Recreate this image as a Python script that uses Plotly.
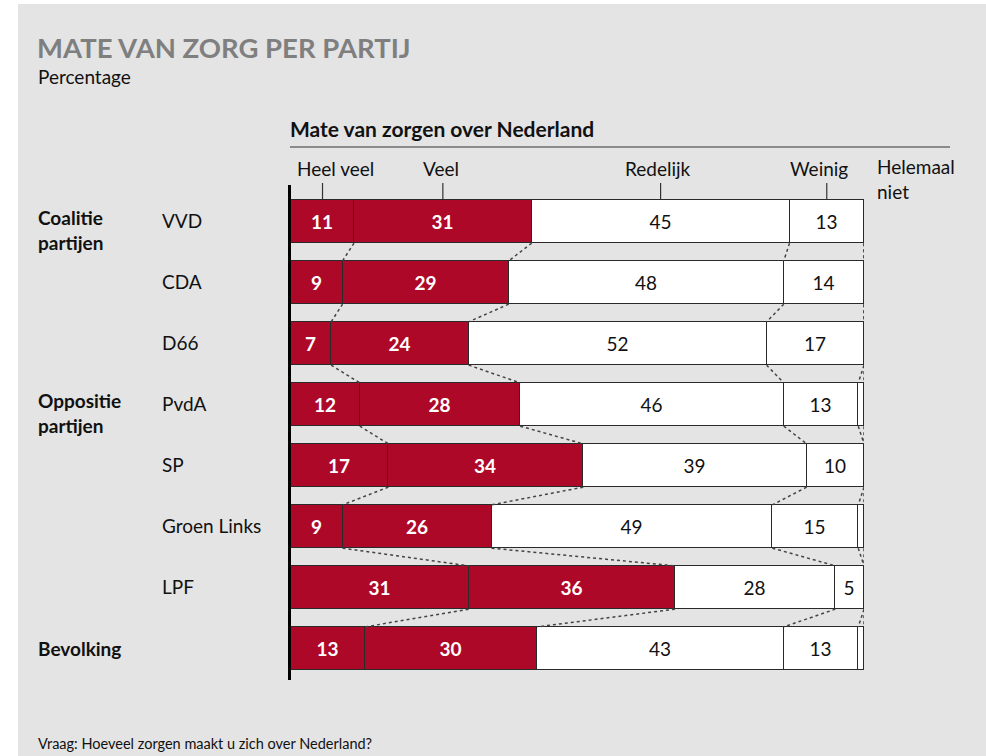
import plotly.graph_objects as go

# ---------------- data ----------------
groups = ["VVD", "CDA", "D66", "PvdA", "SP", "Groen Links", "LPF", "Bevolking"]
categories = ["Heel veel", "Veel", "Redelijk", "Weinig", "Helemaal niet"]
heel_veel = [11, 9, 7, 12, 17, 9, 31, 13]
veel = [31, 29, 24, 28, 34, 26, 36, 30]
redelijk = [45, 48, 52, 46, 39, 49, 28, 43]
weinig = [13, 14, 17, 13, 10, 15, 5, 13]
helemaal_niet = [0, 0, 0, 1, 0, 1, 0, 1]
series = [heel_veel, veel, redelijk, weinig, helemaal_niet]

title = "MATE VAN ZORG PER PARTIJ"
subtitle = "Percentage"
header = "Mate van zorgen over Nederland"
footer = "Vraag: Hoeveel zorgen maakt u zich over Nederland?"
group_labels = [("Coalitie<br>partijen", 0), ("Oppositie<br>partijen", 3), ("Bevolking", 7)]

# ---------------- style ----------------
W, H = 986, 756
PL, PR, PT, PB = 291, 864, 185, 680  # plot area in pixels
RED = "#ae0829"
BG = "#e4e4e4"
FONT = "Lato"
BW = 0.71

fills = [RED, RED, "white", "white", "white"]
txtcol = ["white", "white", "#111", "#111", "#111"]


def px(x):
    return (x - PL) / (PR - PL)


def py(y):
    return (PB - y) / (PB - PT)


ypos = list(range(len(groups)))
fig = go.Figure()
for k, (cat, vals) in enumerate(zip(categories, series)):
    if k < 2:
        txt = [f"<b>{v}</b>" for v in vals]
    elif k < 4:
        txt = [str(v) for v in vals]
    else:
        txt = ["" for v in vals]
    fig.add_trace(go.Bar(
        y=ypos, x=vals, orientation="h", name=cat, width=BW,
        marker=dict(color=fills[k], line=dict(color="#2a2a2a", width=1)),
        text=txt, textposition="inside", insidetextanchor="middle",
        textfont=dict(family=FONT, size=19, color=txtcol[k]),
        hoverinfo="skip", showlegend=False, constraintext="none",
    ))

# dotted connectors between consecutive bars
for i in range(len(groups) - 1):
    cum_a, cum_b = 0, 0
    for k in range(len(series)):
        cum_a += series[k][i]
        cum_b += series[k][i + 1]
        fig.add_trace(go.Scatter(
            x=[cum_a, cum_b], y=[i + BW / 2, i + 1 - BW / 2], mode="lines",
            line=dict(color="#444", width=1.5, dash="dot"),
            hoverinfo="skip", showlegend=False,
        ))

annotations = []
shapes = []
# grey panel
shapes.append(dict(type="rect", xref="paper", yref="paper", x0=px(18), x1=px(986),
                   y0=py(756), y1=py(4), fillcolor=BG, line=dict(width=0), layer="below"))
# header rule
shapes.append(dict(type="line", xref="paper", yref="paper", x0=px(290), x1=px(950),
                   y0=py(147), y1=py(147), line=dict(color="#333", width=1.2)))
# category ticks + labels at the centers of the first bar's segments
cum = 0
xshift = [13, -2, -3, -8]
for k in range(4):
    v = series[k][0]
    c = cum + v / 2
    cum += v
    shapes.append(dict(type="line", xref="x", yref="paper", x0=c, x1=c,
                       y0=py(199), y1=py(183), line=dict(color="#333", width=1.2)))
    annotations.append(dict(x=c, y=py(168), xref="x", yref="paper", text=categories[k],
                            showarrow=False, xanchor="center", yanchor="middle", xshift=xshift[k],
                            font=dict(family=FONT, size=19, color="#111")))
# Helemaal niet label with slash
shapes.append(dict(type="line", xref="x", yref="paper", x0=100, x1=100 + 8 / 5.73,
                   y0=py(200), y1=py(185), line=dict(color="#333", width=1.2)))
annotations.append(dict(x=px(875), y=py(179), xref="paper", yref="paper",
                        text="Helemaal<br>niet", showarrow=False, xanchor="left",
                        yanchor="middle", align="left",
                        font=dict(family=FONT, size=19, color="#111")))

# party labels
for i, g in enumerate(groups[:-1]):
    annotations.append(dict(x=px(160), y=i, xref="paper", yref="y", text=g, showarrow=False,
                            xanchor="left", yanchor="middle", yshift=1,
                            font=dict(family=FONT, size=19, color="#111")))
for lab, i in group_labels:
    annotations.append(dict(x=px(36), y=i, xref="paper", yref="y", text=f"<b>{lab}</b>",
                            showarrow=False, xanchor="left", yanchor="middle", align="left",
                            yshift=0 if "<br>" not in lab else -8,
                            font=dict(family=FONT, size=19, color="#111")))

annotations += [
    dict(x=px(35), y=py(47), xref="paper", yref="paper", text=f"<b>{title}</b>", showarrow=False,
         xanchor="left", yanchor="middle",
         font=dict(family=FONT, size=27.5, color="#7f7f7f")),
    dict(x=px(36), y=py(77), xref="paper", yref="paper", text=subtitle, showarrow=False,
         xanchor="left", yanchor="middle", font=dict(family=FONT, size=19, color="#111")),
    dict(x=px(288), y=py(129), xref="paper", yref="paper", text=f"<b>{header}</b>", showarrow=False,
         xanchor="left", yanchor="middle", font=dict(family=FONT, size=21, color="#111")),
    dict(x=px(36), y=py(743), xref="paper", yref="paper", text=footer, showarrow=False,
         xanchor="left", yanchor="middle", font=dict(family=FONT, size=14.5, color="#111")),
]

y_top = -(221.5 - PT) / 61
y_bot = 7 + (PB - 648.5) / 61
fig.update_layout(
    width=W, height=H, barmode="stack", bargap=0,
    margin=dict(l=PL, r=W - PR, t=PT, b=H - PB, pad=0),
    paper_bgcolor="white", plot_bgcolor="rgba(0,0,0,0)",
    xaxis=dict(range=[0, 100], showgrid=False, zeroline=False, showticklabels=False,
               showline=False, fixedrange=True),
    yaxis=dict(range=[y_bot, y_top], showgrid=False, zeroline=False, showticklabels=False,
               showline=True, linecolor="black", linewidth=3, fixedrange=True),
    shapes=shapes, annotations=annotations,
    uniformtext=dict(minsize=19, mode="show"),
)
fig.write_html("out.html", config={"displayModeBar": False},
               post_script="document.body.style.margin='0';")
